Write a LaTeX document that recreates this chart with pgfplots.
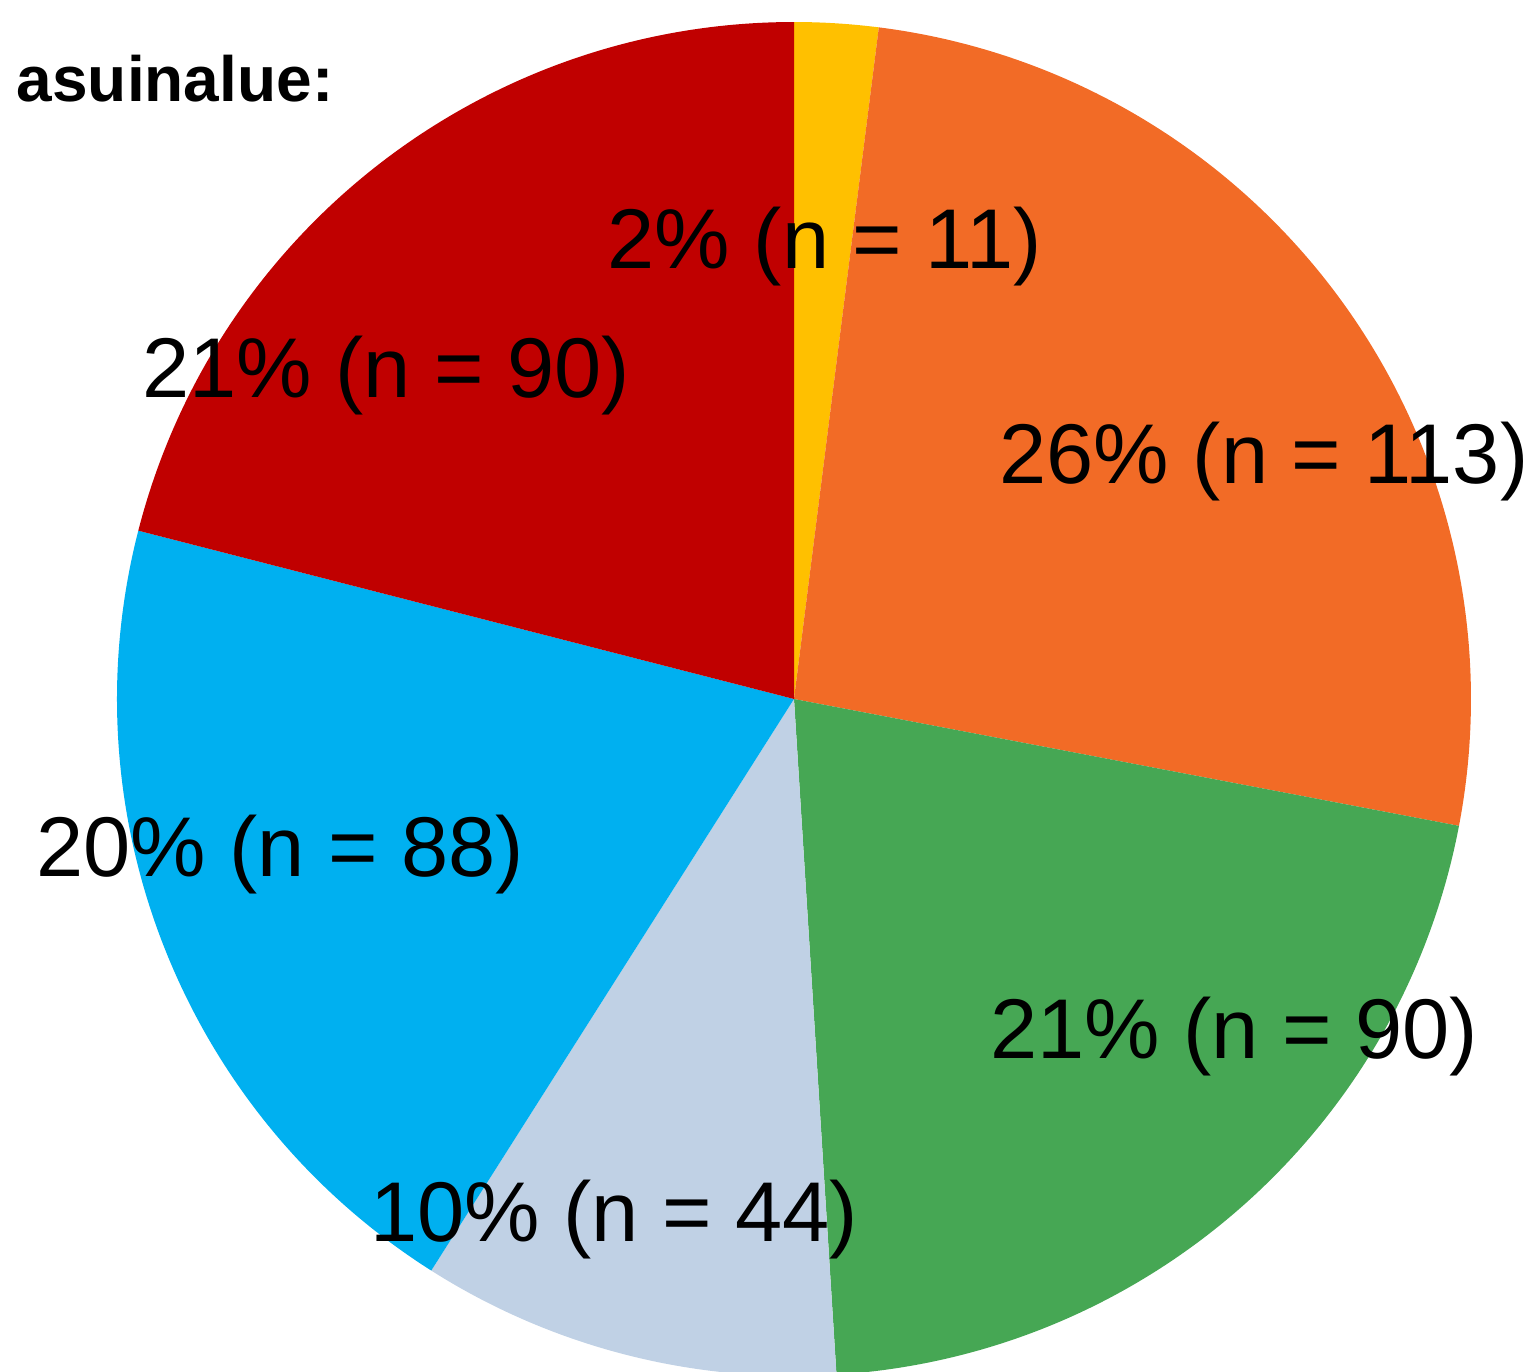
\documentclass[border=0pt]{standalone}
\usepackage{fontspec}
\setmainfont{Liberation Sans}
\usepackage{pgfplots}
\usepackage{pgfplotstable}
\pgfplotsset{compat=1.18}

\definecolor{cYellow}{HTML}{FFC000}
\definecolor{cOrange}{HTML}{F26B26}
\definecolor{cGreen}{HTML}{46A754}
\definecolor{cLight}{HTML}{C0D1E5}
\definecolor{cBlue}{HTML}{00B0F0}
\definecolor{cRed}{HTML}{C00000}

% slice share (%), count, colour, label position (px, y down)
\pgfplotstableread{
pct n   col     lx   ly
2   11  cYellow 825  268
26  113 cOrange 1264 483
21  90  cGreen  1234 1058
10  44  cLight  614  1241
20  88  cBlue   280  876
21  90  cRed    386  397
}\piedata

\begin{document}
\begin{tikzpicture}
\path[use as bounding box] (0,0) rectangle (384pt,343pt);
\begin{axis}[
  at={(0,0)}, anchor=south west,
  scale only axis, width=384pt, height=343pt,
  xmin=0, xmax=1536, ymin=0, ymax=1372, y dir=reverse,
  hide axis]
\addplot[draw=none] coordinates {(0,0) (1536,1372)};
\pgfplotsextra{
  \gdef\angA{90}
  \foreach \i in {0,...,5}{
    \pgfplotstablegetelem{\i}{pct}\of\piedata \let\pv=\pgfplotsretval
    \pgfplotstablegetelem{\i}{col}\of\piedata \let\slicecol=\pgfplotsretval
    \pgfmathsetmacro\angB{\angA-3.6*\pv}
    \fill[fill=\slicecol] (axis cs:794,699) -- ++(\angA:169.25pt)
      arc[start angle=\angA, end angle=\angB, radius=169.25pt] -- cycle;
    \xdef\angA{\angB}
  }
  \foreach \i in {0,...,5}{
    \pgfplotstablegetelem{\i}{pct}\of\piedata \let\pv=\pgfplotsretval
    \pgfplotstablegetelem{\i}{n}\of\piedata \let\nv=\pgfplotsretval
    \pgfplotstablegetelem{\i}{lx}\of\piedata \let\lx=\pgfplotsretval
    \pgfplotstablegetelem{\i}{ly}\of\piedata \let\ly=\pgfplotsretval
    \node[anchor=base, inner sep=0pt, font=\fontsize{21.2}{26}\selectfont]
      at (axis cs:\lx,\ly) {\pv\% (n = \nv)};
  }
  \node[anchor=base west, inner sep=0pt, font=\bfseries\fontsize{16}{19}\selectfont]
    at (axis cs:16,101) {asuinalue:};
}
\end{axis}
\end{tikzpicture}
\end{document}
